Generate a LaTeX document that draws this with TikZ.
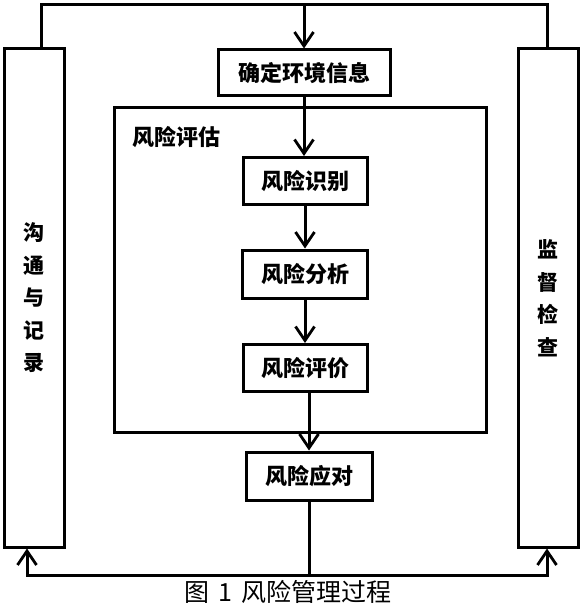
\documentclass[tikz,border=0pt]{standalone}
\usepackage{fontspec}
\newfontfamily\cjk{Noto Sans CJK SC}
\usetikzlibrary{arrows.meta}
\begin{document}
\begin{tikzpicture}[x=1pt,y=-1pt,
  line width=3pt,
  box/.style={draw, rectangle, inner sep=0pt, font=\cjk\bfseries\fontsize{22}{22}\selectfont},
  sidebox/.style={draw, rectangle, inner sep=0pt, align=center, font=\cjk\bfseries\fontsize{21}{32.5}\selectfont},
  arr/.style={-{Straight Barb[length=14pt,width=19pt,line width=2.8pt]}}
]
\useasboundingbox (0,0) rectangle (582,609);
% side boxes
\node[sidebox, minimum width=60pt, minimum height=498pt] (left) at (34,298) {沟\\通\\与\\记\\录};
\node[sidebox, minimum width=60pt, minimum height=498pt] (right) at (548,298) {监\\督\\检\\查};
% assessment frame
\node[draw, rectangle, inner sep=0pt, minimum width=372pt, minimum height=324pt] (frame) at (300,270) {};
\node[font=\cjk\bfseries\fontsize{22}{22}\selectfont, inner sep=0pt] (framelabel) at (176,137) {风险评估};
% process boxes
\node[box, minimum width=172pt, minimum height=46pt] (ctx) at (304,73) {确定环境信息};
\node[box, minimum width=124pt, minimum height=47pt] (ident) at (305,181) {风险识别};
\node[box, minimum width=125pt, minimum height=48pt] (anal) at (305,274) {风险分析};
\node[box, minimum width=124pt, minimum height=47pt] (eval) at (305,368) {风险评价};
\node[box, minimum width=126pt, minimum height=48pt] (treat) at (309,476) {风险应对};
% top feedback line
\coordinate (tl) at (41,5);
\coordinate (tr) at (547,5);
\coordinate (tm) at (304,5);
\draw[line join=miter] (tl |- left.north) -- (tl) -- (tr) -- (tr |- right.north);
\draw[arr] (tm) -- (ctx.north);
\draw[arr] (ctx.south) -- (ident.north -| ctx.south);
\draw[arr] (ident.south) -- (anal.north);
\draw[arr] (anal.south) -- (eval.north);
\draw[arr] (eval.south -| treat.north) -- (treat.north);
% bottom line
\coordinate (bl) at (27,575);
\coordinate (br) at (547,575);
\draw[arr, line join=miter] (treat.south) |- (bl) -- (bl |- left.south);
\draw[arr, line join=miter] (treat.south) |- (br) -- (br |- right.south);
% caption
\node[font=\cjk\fontsize{25}{25}\selectfont, inner sep=0pt] (cap) at (288,592) {图\hspace{9pt}1\hspace{9pt}风险管理过程};
\end{tikzpicture}
\end{document}
